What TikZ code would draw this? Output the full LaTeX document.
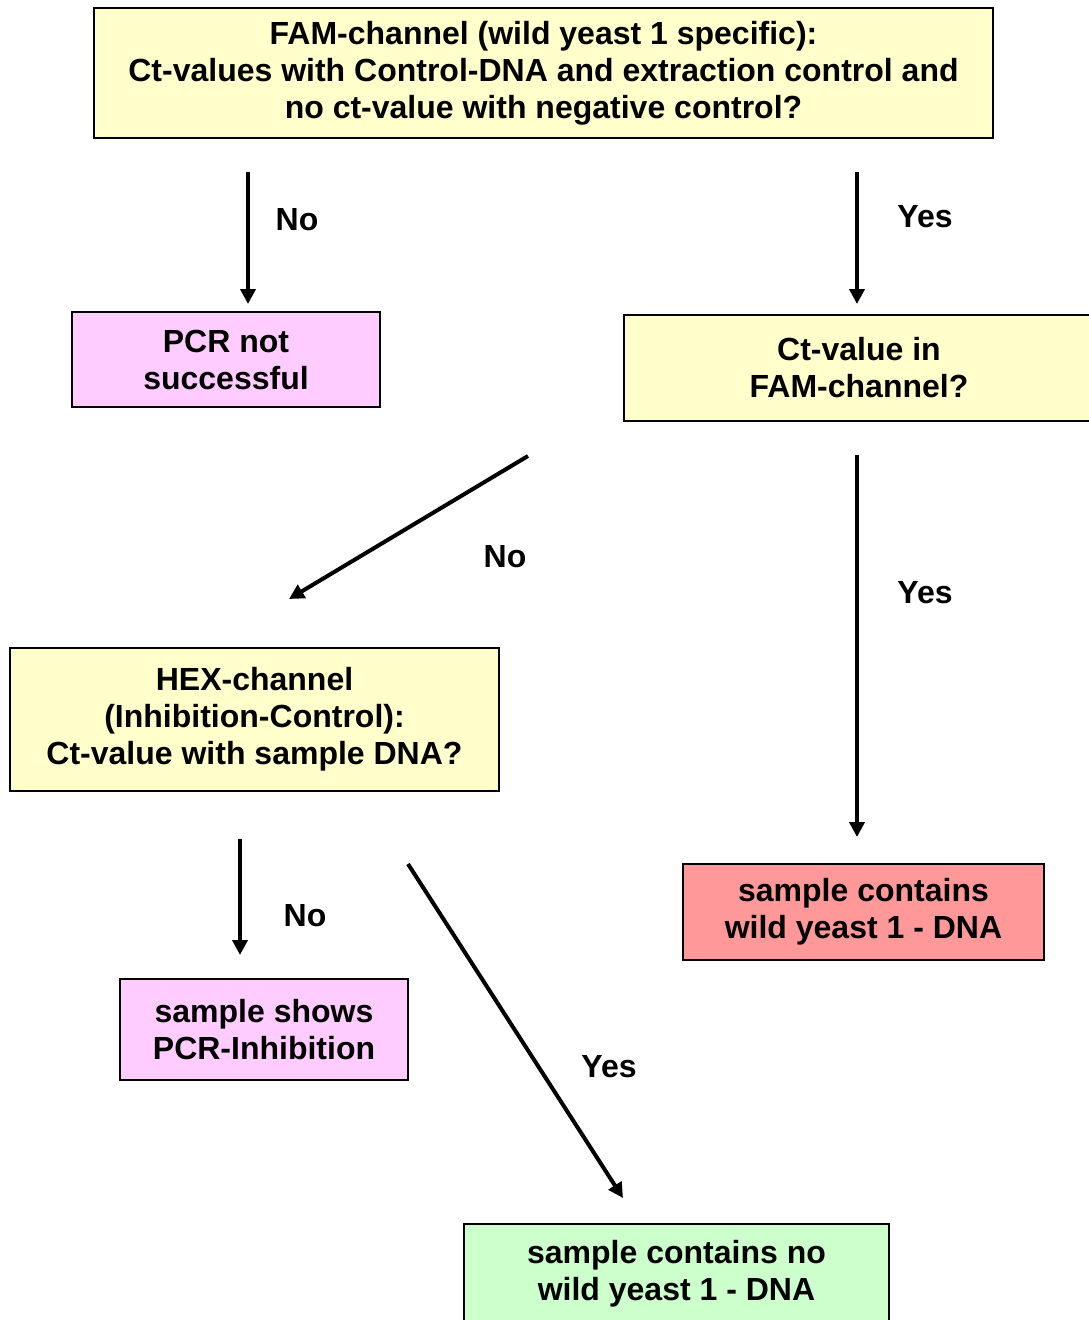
\documentclass[tikz,border=0pt]{standalone}
\usepackage{fontspec}
\setmainfont{Liberation Sans}
\usepackage{xcolor}
\usetikzlibrary{arrows.meta}
\definecolor{qyellow}{HTML}{FFFFCC}
\definecolor{qpink}{HTML}{FFCCFF}
\definecolor{qred}{HTML}{FF9999}
\definecolor{qgreen}{HTML}{CCFFCC}

\begin{document}
\begin{tikzpicture}[x=1pt, y=-1pt,
    box/.style={draw, line width=1.5pt, align=center, inner sep=0pt,
        font=\bfseries\fontsize{32}{37}\selectfont},
    arr/.style={line width=4pt, -{Triangle[length=15pt, width=15pt]}},
    lab/.style={font=\bfseries\fontsize{32}{36}\selectfont}]
    \useasboundingbox (0,0) rectangle (1088,1320);
    % Kaesten
    \node[box, fill=qyellow, minimum width=899, minimum height=130] (fam) at (543.5,73)
        {FAM-channel (wild yeast 1 specific):\\Ct-values with Control-DNA and extraction control and\\no ct-value with negative control?};
    \node[box, fill=qpink, minimum width=308, minimum height=95] (pcrfail) at (226,359.5)
        {PCR not\\successful};
    \node[box, fill=qyellow, minimum width=470, minimum height=106] (ctfam) at (859,368)
        {Ct-value in\\FAM-channel?};
    \node[box, fill=qyellow, minimum width=489, minimum height=143] (hex) at (254.5,719.5)
        {HEX-channel\\(Inhibition-Control):\\Ct-value with sample DNA?};
    \node[box, fill=qred, minimum width=361, minimum height=96] (pos) at (863.5,912)
        {sample contains\\wild yeast 1 - DNA};
    \node[box, fill=qpink, minimum width=288, minimum height=101] (inhib) at (264,1029.5)
        {sample shows\\PCR-Inhibition};
    \node[box, fill=qgreen, minimum width=425, minimum height=100] (neg) at (676.5,1274)
        {sample contains no\\wild yeast 1 - DNA};
    % Pfeile
    \coordinate (a1) at (248,172);  \coordinate (b1) at (248,304);
    \coordinate (a2) at (857,172);  \coordinate (b2) at (857,304);
    \coordinate (a3) at (528,456);  \coordinate (b3) at (289,599);
    \coordinate (a4) at (857,455);  \coordinate (b4) at (857,837);
    \coordinate (a5) at (240,839);  \coordinate (b5) at (240,955);
    \coordinate (a6) at (408,864);  \coordinate (b6) at (623,1198);
    \draw[arr] (a1) -- (b1);
    \draw[arr] (a2) -- (b2);
    \draw[arr] (a3) -- (b3);
    \draw[arr] (a4) -- (b4);
    \draw[arr] (a5) -- (b5);
    \draw[arr] (a6) -- (b6);
    % Beschriftungen
    \node[lab] (no1) at (297,220) {No};
    \node[lab] (yes1) at (925,217) {Yes};
    \node[lab] (no2) at (505,557) {No};
    \node[lab] (yes2) at (925,593) {Yes};
    \node[lab] (no3) at (305,916) {No};
    \node[lab] (yes3) at (609,1067) {Yes};
\end{tikzpicture}
\end{document}
